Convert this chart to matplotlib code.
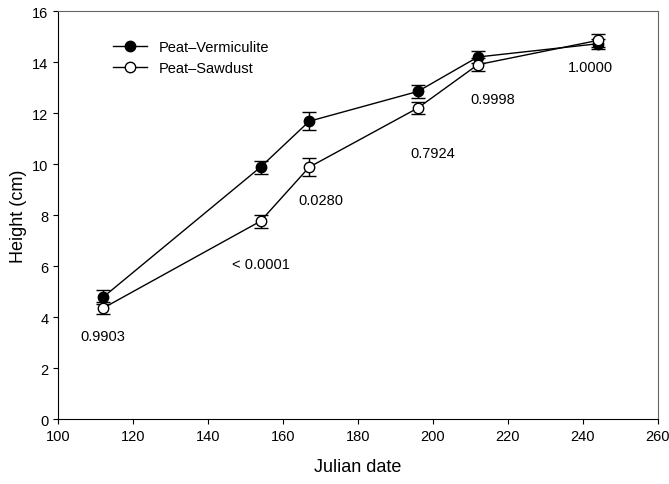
import numpy as np
import matplotlib.pyplot as plt
from matplotlib.lines import Line2D

plt.rcParams['font.family'] = ['Liberation Sans', 'DejaVu Sans']

days = [112, 154, 167, 196, 212, 244]
verm = [4.78, 9.88, 11.68, 12.85, 14.2, 14.72]
verm_err = [0.28, 0.25, 0.35, 0.25, 0.25, 0.2]
saw = [4.35, 7.76, 9.88, 12.2, 13.9, 14.85]
saw_err = [0.25, 0.25, 0.35, 0.25, 0.25, 0.25]
pvals = ['0.9903', '< 0.0001', '0.0280', '0.7924', '0.9998', '1.0000']
pval_x = [112, 154, 170, 200, 216, 242]
pval_y = [3.25, 6.1, 8.6, 10.45, 12.55, 13.8]

fig = plt.figure(figsize=(6.69, 4.85), dpi=100)
ax = fig.add_axes([0.087, 0.134, 0.896, 0.841])

ax.errorbar(days, verm, yerr=verm_err, fmt='-o', color='black', mfc='black',
            mec='black', ms=7.5, lw=1, capsize=5, elinewidth=1)
ax.errorbar(days, saw, yerr=saw_err, fmt='-o', color='black', mfc='white',
            mec='black', ms=7.5, lw=1, capsize=5, elinewidth=1)

for x, y, t in zip(pval_x, pval_y, pvals):
    ax.text(x, y, t, ha='center', va='center', fontsize=10.5)

ax.set_xlim(100, 260)
ax.set_ylim(0, 16)
ax.set_xticks(np.arange(100, 261, 20))
ax.set_yticks(np.arange(0, 17, 2))
ax.tick_params(direction='out', labelsize=10.5)
for s in ['top', 'right']:
    ax.spines[s].set_color('#666666')
ax.set_xlabel('Julian date', fontsize=13, labelpad=11)
ax.set_ylabel('Height (cm)', fontsize=13, labelpad=4)

handles = [Line2D([], [], color='black', marker='o', mfc='black', ms=7.5, lw=1),
           Line2D([], [], color='black', marker='o', mfc='white', ms=7.5, lw=1)]
ax.legend(handles, ['Peat\u2013Vermiculite', 'Peat\u2013Sawdust'], loc='upper left',
          frameon=False, fontsize=10.5, bbox_to_anchor=(0.092, 0.928),
          handlelength=2.3, handletextpad=0.8, borderaxespad=0, borderpad=0,
          labelspacing=0.45)

fig.savefig('out.png')
